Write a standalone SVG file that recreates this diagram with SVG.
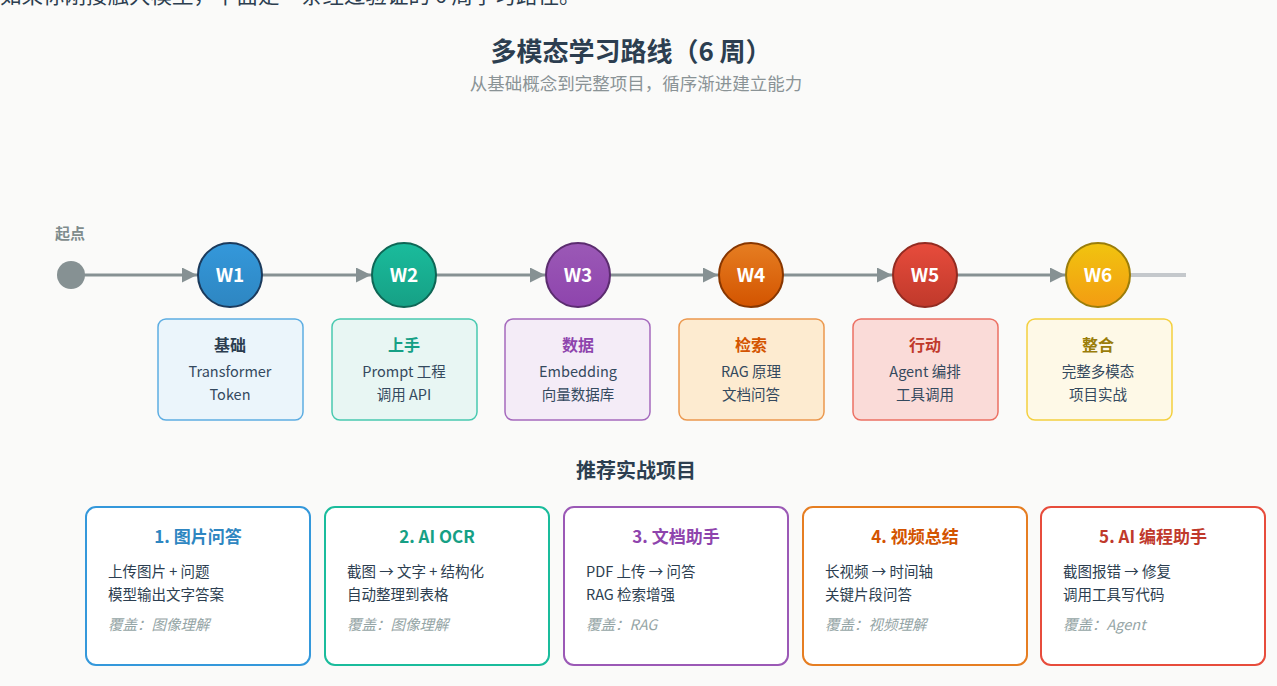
<svg xmlns="http://www.w3.org/2000/svg" width="1277" height="686" viewBox="0 0 1277 686">
<style>
text{font-family:"Noto Sans CJK SC","Noto Sans",sans-serif}
.title{font-size:26px;font-weight:700;fill:#2c3e50;text-anchor:middle}
.sub{font-size:17.5px;fill:#8a9396;text-anchor:middle}
.wk{font-size:19px;font-weight:700;fill:#fff;text-anchor:middle}
.ct{font-size:16px;font-weight:700;text-anchor:middle}
.cl{font-size:14.5px;fill:#34495e;text-anchor:middle}
.pt{font-size:17px;font-weight:700;text-anchor:middle}
.pl{font-size:14.5px;fill:#2c3e50}
.pc{font-size:14.5px;fill:#95a5a6;font-style:italic}
.line{stroke:#869193;stroke-width:3;fill:none}
.pcard{fill:#fff;stroke-width:2}
</style>
<defs>
<marker id="arr" viewBox="0 0 10 10" refX="10" refY="5" markerWidth="21" markerHeight="15" markerUnits="userSpaceOnUse" orient="auto"><path d="M0,0 L10,5 L0,10 z" fill="#869193"/></marker>
<linearGradient id="g1" x1="0" y1="0" x2="0" y2="1"><stop offset="0" stop-color="#3498db"/><stop offset="1" stop-color="#2e86c1"/></linearGradient>
<linearGradient id="g2" x1="0" y1="0" x2="0" y2="1"><stop offset="0" stop-color="#1abc9c"/><stop offset="1" stop-color="#16a085"/></linearGradient>
<linearGradient id="g3" x1="0" y1="0" x2="0" y2="1"><stop offset="0" stop-color="#9b59b6"/><stop offset="1" stop-color="#8e44ad"/></linearGradient>
<linearGradient id="g4" x1="0" y1="0" x2="0" y2="1"><stop offset="0" stop-color="#e67e22"/><stop offset="1" stop-color="#d35400"/></linearGradient>
<linearGradient id="g5" x1="0" y1="0" x2="0" y2="1"><stop offset="0" stop-color="#e74c3c"/><stop offset="1" stop-color="#c0392b"/></linearGradient>
<linearGradient id="g6" x1="0" y1="0" x2="0" y2="1"><stop offset="0" stop-color="#f1c40f"/><stop offset="1" stop-color="#f39c12"/></linearGradient>
</defs>
<rect width="1277" height="686" fill="#fafaf9"/>
<text x="0" y="3" style="font-size:21.5px;fill:#2c3e50">如果你刚接触大模型，下面是一条经过验证的 6 周学习路径。</text>
<text class="title" x="631" y="61">多模态学习路线（6 周）</text>
<text class="sub" x="636" y="90">从基础概念到完整项目，循序渐进建立能力</text>

<g id="connectors">
<line class="line" x1="71" y1="275" x2="197" y2="275" marker-end="url(#arr)"/>
<line class="line" x1="262" y1="275" x2="371" y2="275" marker-end="url(#arr)"/>
<line class="line" x1="436" y1="275" x2="545" y2="275" marker-end="url(#arr)"/>
<line class="line" x1="610" y1="275" x2="718" y2="275" marker-end="url(#arr)"/>
<line class="line" x1="783" y1="275" x2="892" y2="275" marker-end="url(#arr)"/>
<line class="line" x1="957" y1="275" x2="1065" y2="275" marker-end="url(#arr)"/>
<line x1="1130" y1="275" x2="1186" y2="275" stroke="#c4c8cc" stroke-width="4"/>
</g>

<g id="start">
<text x="55" y="239" style="font-size:15px;font-weight:700;fill:#7f8c8d">起点</text>
<circle cx="71" cy="275" r="14" fill="#869193"/>
</g>

<g id="w1">
<circle cx="230" cy="275" r="32" fill="url(#g1)" stroke="#1b3a5c" stroke-width="2"/>
<text class="wk" x="230" y="282">W1</text>
<rect x="158" y="319" width="145" height="101" rx="8" fill="#ebf5fb" stroke="#5dade2" stroke-width="1.5"/>
<text class="ct" x="230" y="351" fill="#2c3e50">基础</text>
<text class="cl" x="230" y="377">Transformer</text>
<text class="cl" x="230" y="400">Token</text>
</g>
<g id="w2">
<circle cx="404" cy="275" r="32" fill="url(#g2)" stroke="#0e6655" stroke-width="2"/>
<text class="wk" x="404" y="282">W2</text>
<rect x="332" y="319" width="145" height="101" rx="8" fill="#e8f6f3" stroke="#48c9b0" stroke-width="1.5"/>
<text class="ct" x="404" y="351" fill="#16a085">上手</text>
<text class="cl" x="404" y="377">Prompt 工程</text>
<text class="cl" x="404" y="400">调用 API</text>
</g>
<g id="w3">
<circle cx="578" cy="275" r="32" fill="url(#g3)" stroke="#5b2c6f" stroke-width="2"/>
<text class="wk" x="578" y="282">W3</text>
<rect x="505" y="319" width="145" height="101" rx="8" fill="#f4ecf7" stroke="#a569bd" stroke-width="1.5"/>
<text class="ct" x="578" y="351" fill="#8e44ad">数据</text>
<text class="cl" x="578" y="377">Embedding</text>
<text class="cl" x="578" y="400">向量数据库</text>
</g>
<g id="w4">
<circle cx="751" cy="275" r="32" fill="url(#g4)" stroke="#873600" stroke-width="2"/>
<text class="wk" x="751" y="282">W4</text>
<rect x="679" y="319" width="145" height="101" rx="8" fill="#fdebd0" stroke="#eb984e" stroke-width="1.5"/>
<text class="ct" x="751" y="351" fill="#d35400">检索</text>
<text class="cl" x="751" y="377">RAG 原理</text>
<text class="cl" x="751" y="400">文档问答</text>
</g>
<g id="w5">
<circle cx="925" cy="275" r="32" fill="url(#g5)" stroke="#922b21" stroke-width="2"/>
<text class="wk" x="925" y="282">W5</text>
<rect x="853" y="319" width="145" height="101" rx="8" fill="#fadbd8" stroke="#ec7063" stroke-width="1.5"/>
<text class="ct" x="925" y="351" fill="#c0392b">行动</text>
<text class="cl" x="925" y="377">Agent 编排</text>
<text class="cl" x="925" y="400">工具调用</text>
</g>
<g id="w6">
<circle cx="1098" cy="275" r="32" fill="url(#g6)" stroke="#9a7d0a" stroke-width="2"/>
<text class="wk" x="1098" y="282">W6</text>
<rect x="1027" y="319" width="145" height="101" rx="8" fill="#fef9e7" stroke="#f4d03f" stroke-width="1.5"/>
<text class="ct" x="1098" y="351" fill="#9a7d0a">整合</text>
<text class="cl" x="1098" y="377">完整多模态</text>
<text class="cl" x="1098" y="400">项目实战</text>
</g>

<text x="636" y="478" style="font-size:20px;font-weight:700;fill:#2c3e50;text-anchor:middle">推荐实战项目</text>

<g id="p1">
<rect class="pcard" x="86" y="507" width="224" height="158" rx="10" stroke="#3498db"/>
<text class="pt" x="198" y="543" fill="#2e86c1">1. 图片问答</text>
<text class="pl" x="108" y="577">上传图片 + 问题</text>
<text class="pl" x="108" y="600">模型输出文字答案</text>
<text class="pc" x="108" y="630">覆盖：图像理解</text>
</g>
<g id="p2">
<rect class="pcard" x="325" y="507" width="224" height="158" rx="10" stroke="#1abc9c"/>
<text class="pt" x="437" y="543" fill="#16a085">2. AI OCR</text>
<text class="pl" x="347" y="577">截图 → 文字 + 结构化</text>
<text class="pl" x="347" y="600">自动整理到表格</text>
<text class="pc" x="347" y="630">覆盖：图像理解</text>
</g>
<g id="p3">
<rect class="pcard" x="564" y="507" width="224" height="158" rx="10" stroke="#9b59b6"/>
<text class="pt" x="676" y="543" fill="#8e44ad">3. 文档助手</text>
<text class="pl" x="586" y="577">PDF 上传 → 问答</text>
<text class="pl" x="586" y="600">RAG 检索增强</text>
<text class="pc" x="586" y="630">覆盖：RAG</text>
</g>
<g id="p4">
<rect class="pcard" x="803" y="507" width="224" height="158" rx="10" stroke="#e67e22"/>
<text class="pt" x="915" y="543" fill="#d35400">4. 视频总结</text>
<text class="pl" x="825" y="577">长视频 → 时间轴</text>
<text class="pl" x="825" y="600">关键片段问答</text>
<text class="pc" x="825" y="630">覆盖：视频理解</text>
</g>
<g id="p5">
<rect class="pcard" x="1041" y="507" width="224" height="158" rx="10" stroke="#e74c3c"/>
<text class="pt" x="1153" y="543" fill="#c0392b">5. AI 编程助手</text>
<text class="pl" x="1063" y="577">截图报错 → 修复</text>
<text class="pl" x="1063" y="600">调用工具写代码</text>
<text class="pc" x="1063" y="630">覆盖：Agent</text>
</g>
</svg>
